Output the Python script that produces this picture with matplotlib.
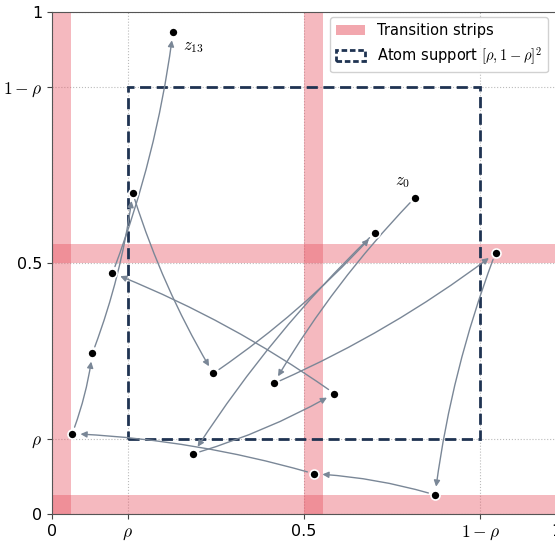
import numpy as np
import matplotlib
matplotlib.use('Agg')
import matplotlib.pyplot as plt
from matplotlib.patches import Rectangle, FancyArrowPatch, Patch

plt.rcParams['mathtext.fontset'] = 'cm'

rho = 0.15
delta = 0.0375
strip_starts = [0.0, 0.5]

# trajectory z0 .. z13
xs = [0.72, 0.44, 0.88, 0.76, 0.52, 0.04, 0.08, 0.16, 0.32, 0.64, 0.28, 0.56, 0.12, 0.24]
ys = [0.63, 0.26, 0.52, 0.038, 0.08, 0.16, 0.32, 0.64, 0.28, 0.56, 0.12, 0.24, 0.48, 0.96]

tick_vals = [0, rho, 0.5, 1 - rho, 1]
tick_labels = ['0', r'$\rho$', '0.5', r'$1-\rho$', '1']

strip_col = '#e6505f'
box_col = '#1f3352'
arrow_col = '#7a8797'

fig = plt.figure(figsize=(5.55, 5.42), dpi=100)
ax = fig.add_axes([52/555, 28/542, 504/555, 502/542])

for s in strip_starts:
    ax.axvspan(s, s + delta, color=strip_col, alpha=0.4, lw=0, zorder=1)
    ax.axhspan(s, s + delta, color=strip_col, alpha=0.4, lw=0, zorder=1)

box = Rectangle((rho, rho), 1 - 2*rho, 1 - 2*rho, fill=False, ec=box_col,
                lw=2, ls=(0, (4, 2)), zorder=3)
ax.add_patch(box)

for i in range(len(xs) - 1):
    a = FancyArrowPatch((xs[i], ys[i]), (xs[i+1], ys[i+1]),
                        connectionstyle='arc3,rad=0.06', arrowstyle='-|>',
                        mutation_scale=9, color=arrow_col, lw=1,
                        shrinkA=5, shrinkB=6, zorder=4)
    ax.add_patch(a)

ax.scatter(xs, ys, s=42, c='black', edgecolors='white', linewidths=1.2, zorder=5)

ax.text(xs[0] - 0.01, ys[0] + 0.015, r'$z_0$', fontsize=12, ha='right', va='bottom')
ax.text(xs[-1] + 0.02, ys[-1] - 0.01, r'$z_{13}$', fontsize=12, ha='left', va='top')

ax.set_xlim(0, 1)
ax.set_ylim(0, 1)
ax.set_xticks(tick_vals)
ax.set_xticklabels(tick_labels)
ax.set_yticks(tick_vals)
ax.set_yticklabels(tick_labels)
ax.tick_params(labelsize=11.5, color='#444444')
for lab in ax.get_xticklabels() + ax.get_yticklabels():
    if '$' in lab.get_text():
        lab.set_fontsize(12.5)
ax.grid(True, ls=':', lw=0.8, color='#bbbbbb', zorder=0)
ax.set_axisbelow(True)
for sp in ax.spines.values():
    sp.set_color('#555555')

handles = [Patch(facecolor=strip_col, alpha=0.5, lw=0, label='Transition strips'),
           Patch(facecolor='none', edgecolor=box_col, lw=2, ls=(0, (2, 1)),
                 label=r'Atom support $[\rho, 1-\rho]^2$')]
ax.legend(handles=handles, loc='upper right', fontsize=10.5, framealpha=0.9,
          bbox_to_anchor=(0.984, 0.99), borderaxespad=0)

fig.savefig('out.png', dpi=100)
